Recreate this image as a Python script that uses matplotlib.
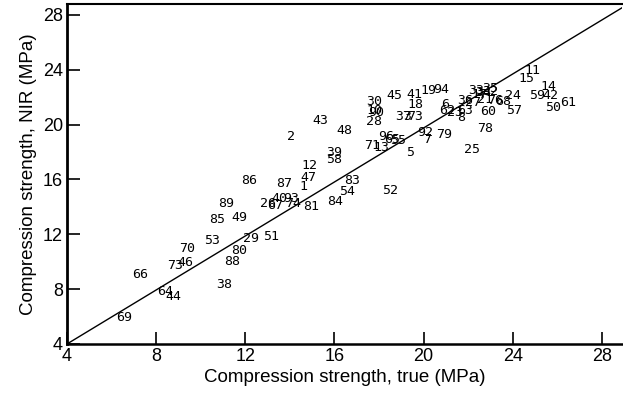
import numpy as np
import matplotlib.pyplot as plt

# sample labels and their (true, NIR) compression strengths in MPa
labels = ['69', '66', '64', '44', '73', '46', '70', '38', '88', '80',
          '53', '29', '51', '85', '49', '89', '86', '26', '67', '40',
          '93', '74', '87', '81', '1', '47', '12', '2', '43', '48',
          '39', '58', '83', '54', '84', '52', '71', '13', '96', '65',
          '55', '30', '10', '90', '28', '45', '3', '18', '37', '73',
          '41', '19', '94', '92', '7', '79', '5', '6', '62', '23',
          '63', '8', '36', '27', '33', '34', '32', '21', '76', '68',
          '60', '78', '25', '24', '57', '11', '15', '14', '59', '42',
          '50', '61', '35', '17']
x_true = [6.55, 7.26, 8.42, 8.78, 8.85, 9.31, 9.40, 11.06, 11.42, 11.72,
          10.51, 12.25, 13.14, 10.74, 11.72, 11.15, 12.16, 13.03, 13.35, 13.53,
          14.05, 14.15, 13.73, 14.93, 14.62, 14.84, 14.89, 14.04, 15.37, 16.44,
          16.00, 16.00, 16.80, 16.58, 16.05, 18.49, 17.70, 18.10, 18.30, 18.60,
          18.85, 17.78, 17.78, 17.85, 17.78, 18.70, 19.25, 19.65, 19.10, 19.60,
          19.60, 20.20, 20.80, 20.05, 20.15, 20.90, 19.40, 20.95, 21.05, 21.40,
          21.85, 21.70, 21.85, 22.20, 22.35, 22.65, 23.00, 22.75, 23.20, 23.55,
          22.90, 22.75, 22.15, 24.00, 24.05, 24.90, 24.60, 25.60, 25.10, 25.70,
          25.80, 26.50, 23.00, 22.50]
y_nir = [5.96, 9.07, 7.85, 7.48, 9.76, 9.93, 10.94, 8.34, 10.05, 10.79,
         11.52, 11.67, 11.82, 13.07, 13.26, 14.22, 15.94, 14.25, 14.10, 14.60,
         14.60, 14.25, 15.69, 14.05, 15.52, 16.13, 16.99, 19.12, 20.30, 19.56,
         17.97, 17.48, 15.94, 15.15, 14.37, 15.20, 18.50, 18.30, 19.15, 18.95,
         18.85, 21.70, 21.05, 20.85, 20.25, 22.10, 20.60, 21.50, 20.60, 20.60,
         22.20, 22.50, 22.55, 19.40, 18.90, 19.25, 18.00, 21.50, 21.00, 20.90,
         21.00, 20.55, 21.75, 21.60, 22.50, 22.35, 22.45, 21.80, 21.75, 21.70,
         20.95, 19.70, 18.20, 22.15, 21.00, 23.95, 23.40, 22.80, 22.15, 22.10,
         21.25, 21.65, 22.60, 22.20]

# fitted line
fit_slope = 0.985
fit_intercept = 0.06

plt.rcParams['font.family'] = ['Liberation Sans', 'DejaVu Sans']

fig = plt.figure(figsize=(6.23, 4.0), dpi=100)
ax = fig.add_axes([0.1075, 0.14, 0.891, 0.85])

for lab, xv, yv in zip(labels, x_true, y_nir):
    ax.text(xv, yv, lab, fontsize=9.5, family='DejaVu Sans Mono',
            ha='center', va='center', color='black')

xl = np.array([4, 29.2])
ax.plot(xl, fit_slope * xl + fit_intercept, color='black', lw=1.0)

ax.set_xlim(4, 28.9)
ax.set_ylim(4, 28.8)
ax.set_xticks(np.arange(4, 29, 4))
ax.set_yticks(np.arange(4, 29, 4))
ax.tick_params(direction='in', length=9, width=1.2, labelsize=13, pad=3)

ax.spines['left'].set_linewidth(2)
ax.spines['bottom'].set_linewidth(1.8)
ax.spines['top'].set_linewidth(1.5)
ax.spines['right'].set_visible(False)

ax.set_xlabel('Compression strength, true (MPa)', fontsize=13.5, labelpad=3)
ax.set_ylabel('Compression strength, NIR (MPa)', fontsize=13.5, labelpad=4)

plt.savefig('out.png', dpi=100)
